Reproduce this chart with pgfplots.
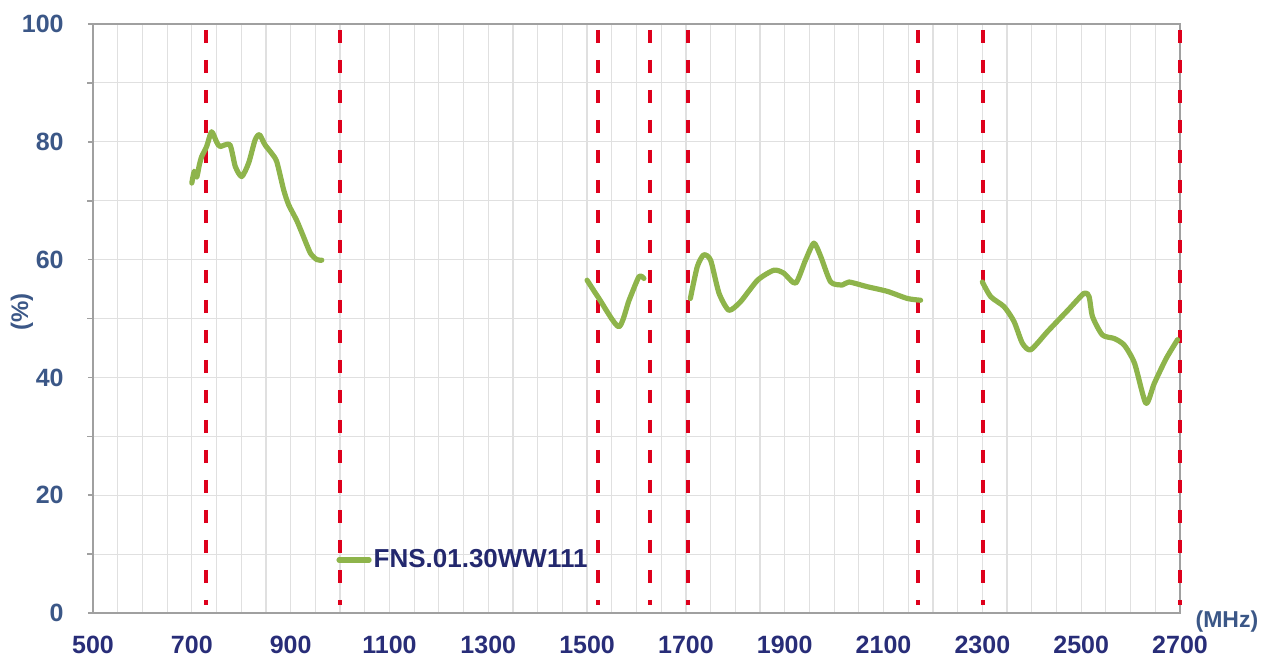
\documentclass[border=0pt]{standalone}
\usepackage{pgfplots}
\pgfplotsset{compat=1.18}
\usepackage{fontspec}
\setmainfont{Liberation Sans}
\definecolor{lgreen}{RGB}{142,180,75}
\definecolor{dred}{RGB}{222,0,28}
\definecolor{ylab}{RGB}{59,87,135}
\definecolor{xlab}{RGB}{40,45,120}
\definecolor{legtxt}{RGB}{35,40,110}
\definecolor{gridc}{RGB}{224,224,224}
\definecolor{axc}{RGB}{160,160,160}
\begin{document}
\begin{tikzpicture}
\begin{axis}[
  scale only axis,
  width=543.5pt, height=294.5pt,
  xmin=500, xmax=2700, ymin=0, ymax=100,
  xtick={500,700,...,2700},
  ytick={0,20,...,100},
  minor x tick num=3,
  minor y tick num=1,
  grid=both,
  grid style={draw=gridc, line width=0.6pt},
  minor grid style={draw=gridc, line width=0.6pt},
  axis line style={draw=axc, line width=1pt},
  tick pos=left,
  tick align=outside,
  major tick length=2.5pt,
  xtick style={draw=none},
  ytick style={draw=axc, line width=0.8pt},
  minor tick style={draw=none},
  /pgf/number format/assume math mode=true,
  /pgf/number format/1000 sep={},
  xticklabel style={font=\bfseries\fontsize{12.5}{14}\selectfont, text=xlab, anchor=north, inner sep=0pt, yshift=-9pt},
  yticklabel style={font=\bfseries\fontsize{12.5}{14}\selectfont, text=ylab, anchor=east, inner sep=0pt, xshift=-12pt},
  ylabel={(\%)},
  ylabel style={at={(rel axis cs:-0.0653,0.511)}, anchor=center, font=\bfseries\fontsize{12}{14}\selectfont, text=ylab},
  legend style={at={(rel axis cs:0.2236,0.09)}, anchor=west, draw=none, fill=none, inner sep=0pt,
    font=\bfseries\fontsize{13}{15}\selectfont, text=legtxt, nodes={inner sep=1pt}},
  legend cell align=left,
  legend image code/.code={\draw[#1] (0pt,0pt) -- (15pt,0pt);},
  clip=false,
]
% red dashed band markers
\pgfplotsinvokeforeach{729,1000,1523,1628,1705,2169,2301,2700}{
  \addplot[forget plot, draw=dred, line width=2pt, dash pattern=on 6.5pt off 8.5pt] coordinates {(#1,99) (#1,1.3)};
}
% efficiency curve
\addplot[lgreen, line width=2.6pt, smooth, tension=0.4, line cap=round, line join=round] coordinates {
 (700,73.0) (705,75.0) (710,74.0) (715,76.0) (720,77.5) (730,79.2) (740,81.7) (750,80.0) (757,79.2)
 (777,79.5) (788,75.8) (801,74.1) (815,76.4) (828,80.3) (837,81.2) (848,79.5) (862,78.0) (872,76.6)
 (886,71.8) (896,69.3) (912,66.7) (926,63.9) (940,61.1) (953,60.0) (963,59.9)
};
\addlegendentry{FNS.01.30WW111}
\addplot[forget plot, lgreen, line width=2.6pt, smooth, tension=0.4, line cap=round, line join=round] coordinates {
 (1500,56.5) (1524,53.4) (1564,48.6) (1585,53.1) (1605,57.1) (1615,56.8)
};
\addplot[forget plot, lgreen, line width=2.6pt, smooth, tension=0.4, line cap=round, line join=round] coordinates {
 (1709,53.4) (1723,58.8) (1736,60.8) (1750,59.9) (1767,54.3) (1787,51.4) (1811,52.9) (1845,56.5)
 (1878,58.2) (1898,57.7) (1922,56.0) (1942,59.9) (1959,62.8) (1973,60.5) (1993,56.2) (2017,55.7)
 (2030,56.2) (2067,55.4) (2108,54.6) (2148,53.4) (2175,53.1)
};
\addplot[forget plot, lgreen, line width=2.6pt, smooth, tension=0.4, line cap=round, line join=round] coordinates {
 (2300,56.2) (2317,53.7) (2344,52.0) (2364,49.5) (2381,45.8) (2398,44.7) (2432,47.8) (2473,51.4)
 (2506,54.3) (2516,53.7) (2523,50.3) (2543,47.2) (2567,46.6) (2587,45.5) (2608,42.4) (2631,35.6)
 (2648,39.0) (2672,43.2) (2695,46.4)
};
\node[font=\bfseries\fontsize{11.5}{13}\selectfont, text=ylab, inner sep=0pt] at (rel axis cs:1.0432,-0.0153) {(MHz)};
\coordinate (A) at (rel axis cs:0,0);
\coordinate (B) at (rel axis cs:1,1);
\end{axis}
\pgfresetboundingbox
\path[use as bounding box] (A) ++(-46.5pt,-23pt) rectangle ([shift={(47pt,12pt)}]B);
\end{tikzpicture}
\end{document}
